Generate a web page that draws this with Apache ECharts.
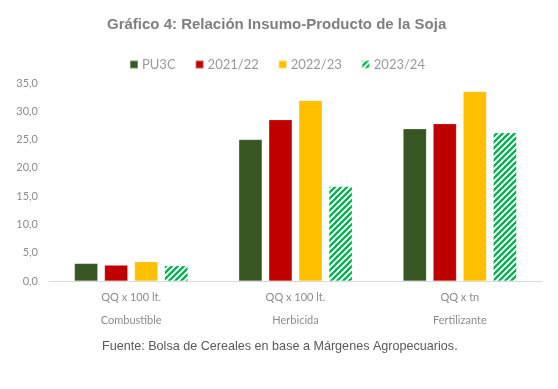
<!DOCTYPE html>
<html><head><meta charset="utf-8">
<script src="https://cdn.jsdelivr.net/npm/echarts@6/dist/echarts.min.js"></script>
<style>html,body{margin:0;padding:0;background:#fff}#c{width:558px;height:389px}</style>
</head><body><div id="c"></div>
<script>
var categories = ['Combustible', 'Herbicida', 'Fertilizante'];
var units = ['QQ x 100 lt.', 'QQ x 100 lt.', 'QQ x tn'];
var seriesNames = ['PU3C', '2021/22', '2022/23', '2023/24'];
var pu3c = [3.1, 25.0, 26.9];
var s2122 = [2.8, 28.5, 27.8];
var s2223 = [3.4, 31.9, 33.5];
var s2324 = [2.7, 16.7, 26.2];
var yTicks = [0, 5, 10, 15, 20, 25, 30, 35];

function hatch() {
  var c = document.createElement('canvas');
  c.width = 6; c.height = 6;
  var g = c.getContext('2d');
  g.fillStyle = '#fff'; g.fillRect(0, 0, 6, 6);
  g.strokeStyle = '#00b050'; g.lineWidth = 2.3;
  g.beginPath();
  g.moveTo(-1, 7); g.lineTo(7, -1);
  g.moveTo(-4, 4); g.lineTo(4, -4);
  g.moveTo(2, 10); g.lineTo(10, 2);
  g.stroke();
  return c;
}
var hatchFill = { image: hatch(), repeat: 'repeat' };
var colors = ['#375623', '#c00000', '#ffc000', hatchFill];
var vals = [pu3c, s2122, s2223, s2324];

var chart = echarts.init(document.getElementById('c'));
chart.setOption({
  animation: false,
  title: {
    text: 'Gráfico 4: Relación Insumo-Producto de la Soja',
    left: 102, top: 12,
    textStyle: { fontFamily: 'Liberation Sans', fontWeight: 'bold', fontSize: 15, color: '#7f7f7f' }
  },
  legend: {
    top: 53, left: 124, itemWidth: 8, itemHeight: 8, itemGap: 19,
    icon: 'rect',
    textStyle: { fontFamily: 'Lato', fontSize: 13, color: '#999999', padding: [0, 0, 0, -1] },
    data: seriesNames
  },
  grid: { left: 49, right: 16, top: 83, bottom: 108, containLabel: false },
  xAxis: [
    { type: 'category', data: units, position: 'bottom',
      axisLine: { lineStyle: { color: '#d9d9d9' } },
      axisTick: { length: 46, lineStyle: { color: '#d9d9d9' } },
      axisLabel: { margin: 11, fontFamily: 'Lato', fontSize: 11, color: '#8c8c8c' } },
    { type: 'category', data: categories, position: 'bottom', offset: 23,
      axisLine: { show: false }, axisTick: { show: false },
      axisLabel: { margin: 11, fontFamily: 'Lato', fontSize: 11, color: '#8c8c8c' } }
  ],
  yAxis: {
    type: 'value', min: 0, max: 35, interval: 5,
    splitLine: { show: false }, axisLine: { show: false }, axisTick: { show: false },
    axisLabel: { margin: 11, fontFamily: 'Lato', fontSize: 11, color: '#8c8c8c',
      formatter: function (v) { return v.toFixed(1).replace('.', ','); } }
  },
  series: seriesNames.map(function (n, i) {
    return {
      name: n, type: 'bar', xAxisIndex: 0, data: vals[i],
      barGap: '29%', barCategoryGap: '31%',
      itemStyle: { color: colors[i], borderColor: 'rgba(255,255,255,0.35)', borderWidth: 0.5 }
    };
  })
});
chart.setOption({ graphic: [{
  type: 'text', left: 102, top: 340,
  style: { text: 'Fuente: Bolsa de Cereales en base a Márgenes Agropecuarios.',
    font: '12.6px "Liberation Sans"', fill: '#595959' }
}] });
</script></body></html>
